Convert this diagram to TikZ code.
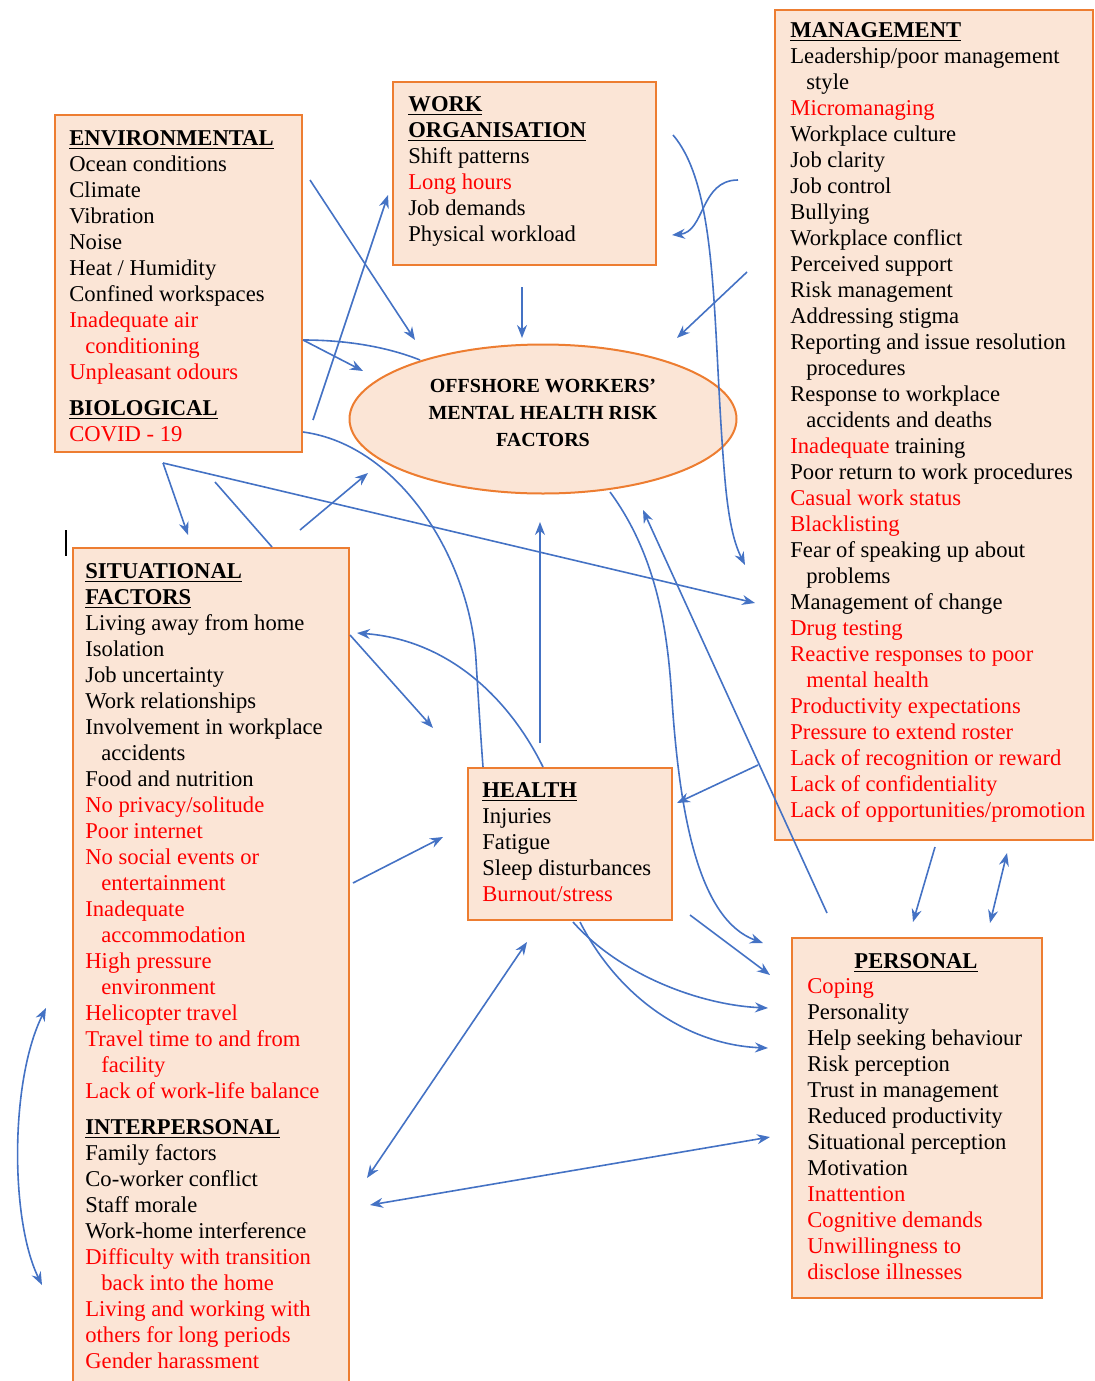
\documentclass[tikz,border=0pt]{standalone}
\usepackage{fontspec}
\setmainfont{Liberation Serif}
\usetikzlibrary{arrows.meta,shapes.geometric,fit}
\definecolor{boxfill}{HTML}{FBE5D6}
\definecolor{boxline}{HTML}{ED7D31}
\definecolor{linkblue}{HTML}{4472C4}
\definecolor{hl}{HTML}{FF0000}
\newcommand{\rd}[1]{\textcolor{hl}{#1}}
\newcommand{\hd}[1]{\underline{\textbf{#1}}}
\newcommand{\ind}{\hspace*{8pt}}
\begin{document}
\begin{tikzpicture}[x=0.5pt,y=-0.5pt,
  factorbox/.style={draw=boxline, fill=boxfill, line width=1pt, inner sep=0pt},
  listtext/.style={anchor=north west, inner sep=0pt, align=left,
    font=\fontsize{11.3}{13}\selectfont},
  plainlink/.style={draw=linkblue, line width=0.8pt},
  arrowone/.style={plainlink, -{Stealth[length=6.5pt,width=5pt]}},
  arrowtwo/.style={plainlink, {Stealth[length=6.5pt,width=5pt]}-{Stealth[length=6.5pt,width=5pt]}},
]
\useasboundingbox (0,0) rectangle (1094,1381);

% ---------- boxes ----------
\node[factorbox, fit={(55,115) (302,452)}] (env) {};
\node[factorbox, fit={(393,82) (656,265)}] (work) {};
\node[factorbox, fit={(775,10) (1093,840)}] (mgmt) {};
\node[factorbox, fit={(73,548) (349,1390)}] (sit) {};
\node[factorbox, fit={(468,768) (672,920)}] (health) {};
\node[factorbox, fit={(792,938) (1042,1298)}] (pers) {};
\node[factorbox, ellipse, minimum width=193.5pt, minimum height=74.5pt] (core) at (543,419) {};

% ---------- texts ----------
\node[align=center, inner sep=0pt, font=\fontsize{10}{13.5}\selectfont\bfseries] (coretext) at (543,413)
  {OFFSHORE WORKERS’\\MENTAL HEALTH RISK\\FACTORS};

\node[listtext] (envtext) at (69,127) {\strut\hd{ENVIRONMENTAL}\\
Ocean conditions\\
Climate\\
Vibration\\
Noise\\
Heat / Humidity\\
Confined workspaces\\
\rd{Inadequate air}\\
\ind\rd{conditioning}\\
\rd{Unpleasant odours}\\[5pt]
\hd{BIOLOGICAL}\\
\rd{COVID - 19}};

\node[listtext] (worktext) at (408,93) {\strut\hd{WORK}\\
\hd{ORGANISATION}\\
Shift patterns\\
\rd{Long hours}\\
Job demands\\
Physical workload};

\node[listtext] (mgmttext) at (790,19) {\strut\hd{MANAGEMENT}\\
Leadership/poor management\\
\ind style\\
\rd{Micromanaging}\\
Workplace culture\\
Job clarity\\
Job control\\
Bullying\\
Workplace conflict\\
Perceived support\\
Risk management\\
Addressing stigma\\
Reporting and issue resolution\\
\ind procedures\\
Response to workplace\\
\ind accidents and deaths\\
\rd{Inadequate} training\\
Poor return to work procedures\\
\rd{Casual work status}\\
\rd{Blacklisting}\\
Fear of speaking up about\\
\ind problems\\
Management of change\\
\rd{Drug testing}\\
\rd{Reactive responses to poor}\\
\ind\rd{mental health}\\
\rd{Productivity expectations}\\
\rd{Pressure to extend roster}\\
\rd{Lack of recognition or reward}\\
\rd{Lack of confidentiality}\\
\rd{Lack of opportunities/promotion}};

\node[listtext] (sittext) at (85,560) {\strut\hd{SITUATIONAL}\\
\hd{FACTORS}\\
Living away from home\\
Isolation\\
Job uncertainty\\
Work relationships\\
Involvement in workplace\\
\ind accidents\\
Food and nutrition\\
\rd{No privacy/solitude}\\
\rd{Poor internet}\\
\rd{No social events or}\\
\ind\rd{entertainment}\\
\rd{Inadequate}\\
\ind\rd{accommodation}\\
\rd{High pressure}\\
\ind\rd{environment}\\
\rd{Helicopter travel}\\
\rd{Travel time to and from}\\
\ind\rd{facility}\\
\rd{Lack of work-life balance}\\[5pt]
\hd{INTERPERSONAL}\\
Family factors\\
Co-worker conflict\\
Staff morale\\
Work-home interference\\
\rd{Difficulty with transition}\\
\ind\rd{back into the home}\\
\rd{Living and working with}\\
\rd{others for long periods}\\
\rd{Gender harassment}};

\node[listtext] (healthtext) at (482,779) {\strut\hd{HEALTH}\\
Injuries\\
Fatigue\\
Sleep disturbances\\
\rd{Burnout/stress}};

\node[anchor=base, inner sep=0pt, font=\fontsize{11.3}{13}\selectfont] (pershead) at (916,968) {\hd{PERSONAL}};
\node[listtext] (perstext) at (807,975) {\strut\rd{Coping}\\
Personality\\
Help seeking behaviour\\
Risk perception\\
Trust in management\\
Reduced productivity\\
Situational perception\\
Motivation\\
\rd{Inattention}\\
\rd{Cognitive demands}\\
\rd{Unwillingness to}\\
\rd{disclose illnesses}};

% text cursor mark left of the situational box
\draw[line width=1pt] (66,530) -- (66,556);

% ---------- connector end points ----------
\coordinate (e1) at (310,180);   \coordinate (c1) at (415,340);
\coordinate (e2) at (313,420);   \coordinate (w1) at (388,195);
\coordinate (w2) at (522,287);   \coordinate (c2) at (522,338);
\coordinate (w3) at (673,135);   \coordinate (m1) at (745,565);
\coordinate (m2) at (738,180);   \coordinate (w4) at (672,235);
\coordinate (m3) at (747,272);   \coordinate (c3) at (677,338);
\coordinate (e3) at (303,340);   \coordinate (c4) at (363,371);
\coordinate (c5) at (420,360);
\coordinate (e4) at (303,432);   \coordinate (h1) at (483,767);
\coordinate (e5) at (163,463);   \coordinate (s1) at (188,535);
\coordinate (m4) at (755,603);
\coordinate (s2) at (215,482);   \coordinate (s3) at (272,547);
\coordinate (s4) at (300,530);   \coordinate (c6) at (368,473);
\coordinate (h2) at (540,743);   \coordinate (c7) at (540,522);
\coordinate (c8) at (610,492);   \coordinate (p1) at (763,943);
\coordinate (p2) at (827,913);   \coordinate (c9) at (643,510);
\coordinate (m5) at (758,765);   \coordinate (h3) at (677,803);
\coordinate (h4) at (543,767);   \coordinate (s5) at (357,633);
\coordinate (s6) at (350,635);   \coordinate (h5) at (433,728);
\coordinate (s7) at (353,883);   \coordinate (h6) at (443,837);
\coordinate (h7) at (573,922);   \coordinate (p3) at (768,1008);
\coordinate (h8) at (580,922);   \coordinate (p4) at (768,1048);
\coordinate (h9) at (690,915);   \coordinate (p5) at (770,975);
\coordinate (m6) at (935,847);   \coordinate (p6) at (913,922);
\coordinate (m7) at (1007,853);  \coordinate (p7) at (990,923);
\coordinate (h10) at (527,942);  \coordinate (s8) at (367,1178);
\coordinate (p8) at (770,1137);  \coordinate (s9) at (370,1205);
\coordinate (s10) at (46,1008);  \coordinate (s11) at (42,1285);

% ---------- connectors ----------
\draw[arrowone] (e1) -- (c1);
\draw[arrowone] (e2) -- (w1);
\draw[arrowone] (w2) -- (c2);
\draw[arrowone] (w3) .. controls (720,190) and (712,330) .. (725,480)
                     .. controls (729,525) and (735,545) .. (m1);
\draw[arrowone] (m2) .. controls (700,180) and (705,232) .. (w4);
\draw[arrowone] (m3) -- (c3);
\draw[arrowone] (e3) -- (c4);
\draw[plainlink] (e3) .. controls (350,340) and (390,348) .. (c5);
\draw[plainlink] (e4) .. controls (400,445) and (470,560) .. (476,660)
                      .. controls (479,710) and (481,740) .. (h1);
\draw[arrowone] (e5) -- (s1);
\draw[arrowone] (e5) -- (m4);
\draw[plainlink] (s2) -- (s3);
\draw[arrowone] (s4) -- (c6);
\draw[arrowone] (h2) -- (c7);
\draw[arrowone] (c8) .. controls (660,560) and (668,640) .. (672,700)
                     .. controls (680,820) and (700,920) .. (p1);
\draw[arrowone] (p2) -- (c9);
\draw[arrowone] (m5) -- (h3);
\draw[arrowone] (h4) .. controls (510,700) and (450,640) .. (s5);
\draw[arrowone] (s6) -- (h5);
\draw[arrowone] (s7) -- (h6);
\draw[arrowone] (h7) .. controls (620,975) and (700,1005) .. (p3);
\draw[arrowone] (h8) .. controls (620,1000) and (690,1045) .. (p4);
\draw[arrowone] (h9) -- (p5);
\draw[arrowone] (m6) -- (p6);
\draw[arrowtwo] (m7) -- (p7);
\draw[arrowtwo] (h10) -- (s8);
\draw[arrowtwo] (p8) -- (s9);
\draw[arrowtwo] (s10) .. controls (10,1080) and (10,1220) .. (s11);
\end{tikzpicture}
\end{document}
